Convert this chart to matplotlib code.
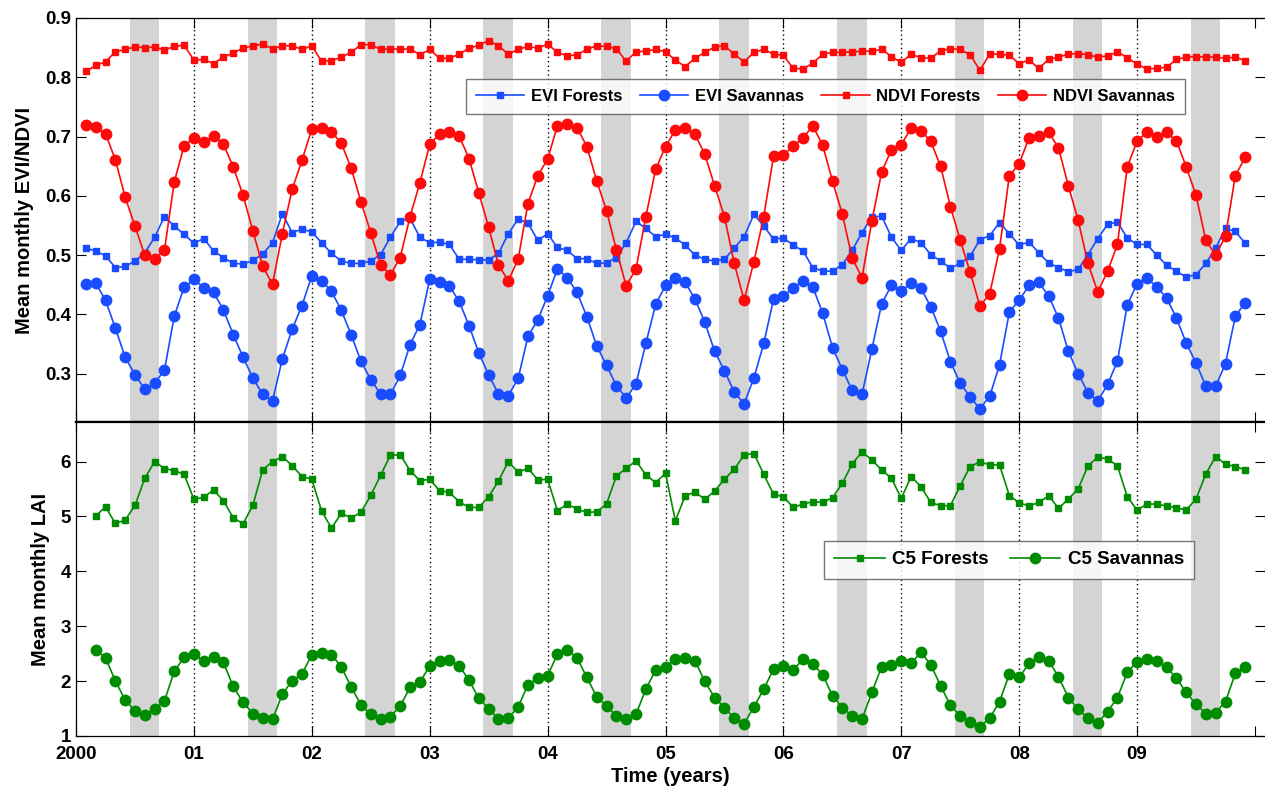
import matplotlib
matplotlib.use("Agg")
import matplotlib.pyplot as plt
import numpy as np

# monthly values, upper panel starts Feb 2000, lower panel starts Mar 2000
evi_forest = [0.512, 0.507, 0.499, 0.479, 0.481, 0.490, 0.504, 0.530, 0.565, 0.549,
              0.535, 0.520, 0.528, 0.507, 0.496, 0.486, 0.485, 0.491, 0.502, 0.521,
              0.570, 0.538, 0.544, 0.539, 0.521, 0.503, 0.490, 0.486, 0.486, 0.490,
              0.501, 0.530, 0.557, 0.562, 0.530, 0.521, 0.522, 0.518, 0.493, 0.493,
              0.492, 0.492, 0.503, 0.536, 0.561, 0.554, 0.525, 0.536, 0.513, 0.508,
              0.494, 0.494, 0.486, 0.487, 0.496, 0.521, 0.557, 0.545, 0.531, 0.535,
              0.529, 0.517, 0.500, 0.493, 0.490, 0.493, 0.512, 0.531, 0.569, 0.549,
              0.527, 0.529, 0.517, 0.507, 0.479, 0.473, 0.473, 0.484, 0.508, 0.538,
              0.564, 0.566, 0.530, 0.508, 0.528, 0.521, 0.501, 0.490, 0.478,
              0.486, 0.498, 0.526, 0.533, 0.555, 0.536, 0.517, 0.522, 0.504, 0.487,
              0.479, 0.472, 0.476, 0.501, 0.528, 0.552, 0.556, 0.529, 0.518, 0.518,
              0.500, 0.483, 0.473, 0.463, 0.467, 0.486, 0.512, 0.545, 0.540, 0.520]
evi_sav = [0.452, 0.453, 0.424, 0.377, 0.328, 0.298, 0.274, 0.284, 0.306, 0.397,
           0.446, 0.459, 0.445, 0.437, 0.408, 0.366, 0.328, 0.293, 0.265, 0.254,
           0.325, 0.375, 0.415, 0.465, 0.457, 0.439, 0.407, 0.366, 0.321, 0.290,
           0.266, 0.265, 0.297, 0.349, 0.383, 0.459, 0.455, 0.448, 0.422, 0.381,
           0.335, 0.298, 0.266, 0.263, 0.292, 0.363, 0.391, 0.431, 0.477, 0.462,
           0.437, 0.396, 0.347, 0.314, 0.280, 0.259, 0.283, 0.351, 0.417, 0.449,
           0.462, 0.454, 0.426, 0.387, 0.338, 0.305, 0.269, 0.249, 0.293, 0.351,
           0.426, 0.431, 0.445, 0.457, 0.446, 0.402, 0.344, 0.307, 0.272, 0.265,
           0.341, 0.418, 0.449, 0.440, 0.453, 0.444, 0.413, 0.372, 0.320,
           0.284, 0.261, 0.241, 0.262, 0.315, 0.404, 0.424, 0.449, 0.454, 0.431,
           0.394, 0.338, 0.300, 0.268, 0.254, 0.282, 0.321, 0.416, 0.452, 0.462,
           0.446, 0.428, 0.394, 0.352, 0.318, 0.279, 0.279, 0.317, 0.397, 0.420]
ndvi_forest = [0.810, 0.820, 0.826, 0.843, 0.847, 0.851, 0.850, 0.851, 0.846, 0.852,
               0.854, 0.829, 0.830, 0.823, 0.834, 0.841, 0.849, 0.853, 0.856, 0.848,
               0.853, 0.853, 0.847, 0.853, 0.827, 0.828, 0.834, 0.842, 0.855, 0.855,
               0.847, 0.848, 0.847, 0.848, 0.838, 0.847, 0.832, 0.832, 0.839, 0.849,
               0.854, 0.862, 0.853, 0.839, 0.847, 0.852, 0.849, 0.856, 0.842, 0.836,
               0.838, 0.847, 0.853, 0.852, 0.848, 0.827, 0.843, 0.844, 0.847, 0.843,
               0.829, 0.818, 0.832, 0.842, 0.851, 0.853, 0.839, 0.826, 0.842, 0.847,
               0.839, 0.837, 0.815, 0.814, 0.824, 0.839, 0.842, 0.842, 0.843, 0.844,
               0.844, 0.847, 0.835, 0.825, 0.839, 0.833, 0.832, 0.845, 0.848,
               0.847, 0.838, 0.812, 0.839, 0.839, 0.837, 0.823, 0.829, 0.815, 0.830,
               0.834, 0.839, 0.840, 0.838, 0.834, 0.836, 0.843, 0.833, 0.822, 0.814,
               0.815, 0.817, 0.830, 0.834, 0.835, 0.834, 0.834, 0.832, 0.834, 0.828]
ndvi_sav = [0.720, 0.716, 0.705, 0.661, 0.598, 0.549, 0.500, 0.494, 0.508, 0.624,
            0.684, 0.698, 0.690, 0.701, 0.687, 0.649, 0.601, 0.541, 0.481, 0.451,
            0.536, 0.611, 0.660, 0.713, 0.714, 0.708, 0.689, 0.647, 0.590, 0.538,
            0.483, 0.467, 0.496, 0.565, 0.622, 0.687, 0.704, 0.707, 0.701, 0.663,
            0.605, 0.547, 0.483, 0.457, 0.493, 0.587, 0.634, 0.662, 0.718, 0.722,
            0.715, 0.683, 0.625, 0.575, 0.509, 0.448, 0.477, 0.565, 0.645, 0.683,
            0.711, 0.714, 0.704, 0.670, 0.617, 0.565, 0.486, 0.424, 0.489, 0.565,
            0.667, 0.669, 0.684, 0.698, 0.718, 0.685, 0.625, 0.569, 0.495, 0.462,
            0.557, 0.640, 0.678, 0.686, 0.715, 0.710, 0.692, 0.650, 0.582,
            0.525, 0.472, 0.414, 0.435, 0.511, 0.634, 0.654, 0.698, 0.701, 0.707,
            0.681, 0.617, 0.559, 0.486, 0.438, 0.473, 0.518, 0.649, 0.692, 0.708,
            0.700, 0.707, 0.693, 0.649, 0.601, 0.525, 0.500, 0.532, 0.634, 0.665]
lai_forest = [5.006, 5.177, 4.872, 4.933, 5.201, 5.695, 6.000, 5.872, 5.835, 5.768,
              5.311, 5.348, 5.482, 5.287, 4.976, 4.866, 5.201, 5.848, 6.000, 6.091,
              5.927, 5.726, 5.677, 5.098, 4.787, 5.055, 4.976, 5.073, 5.384, 5.750,
              6.116, 6.122, 5.835, 5.652, 5.677, 5.470, 5.439, 5.268, 5.165, 5.165,
              5.360, 5.646, 6.000, 5.805, 5.878, 5.665, 5.677, 5.104, 5.226, 5.134,
              5.073, 5.085, 5.226, 5.738, 5.878, 6.012, 5.756, 5.616, 5.787, 4.921,
              5.372, 5.445, 5.311, 5.463, 5.677, 5.860, 6.122, 6.146, 5.768, 5.402,
              5.360, 5.165, 5.226, 5.268, 5.256, 5.341, 5.604, 5.957, 6.177, 6.030,
              5.848, 5.695, 5.329, 5.726, 5.543, 5.256, 5.195, 5.195, 5.561, 5.909,
              5.994, 5.939, 5.939, 5.378, 5.250, 5.189, 5.256, 5.378, 5.146, 5.317,
              5.500, 5.921, 6.079, 6.049, 5.921, 5.360, 5.116, 5.226, 5.226, 5.189,
              5.159, 5.116, 5.317, 5.774, 6.091, 5.951, 5.909, 5.848]
lai_sav = [2.567, 2.421, 2.006, 1.652, 1.457, 1.378, 1.488, 1.640, 2.177, 2.433,
           2.494, 2.372, 2.433, 2.341, 1.902, 1.610, 1.409, 1.335, 1.305, 1.762,
           2.006, 2.128, 2.482, 2.506, 2.482, 2.262, 1.896, 1.567, 1.396, 1.305,
           1.348, 1.549, 1.884, 1.976, 2.280, 2.360, 2.384, 2.280, 2.018, 1.683,
           1.500, 1.305, 1.323, 1.530, 1.933, 2.055, 2.098, 2.494, 2.567, 2.421,
           2.067, 1.713, 1.549, 1.360, 1.305, 1.396, 1.854, 2.201, 2.262, 2.402,
           2.415, 2.372, 1.994, 1.701, 1.518, 1.323, 1.226, 1.530, 1.854, 2.220,
           2.280, 2.201, 2.402, 2.311, 2.116, 1.732, 1.518, 1.366, 1.305, 1.793,
           2.262, 2.299, 2.372, 2.329, 2.524, 2.299, 1.915, 1.561, 1.366, 1.262,
           1.171, 1.323, 1.628, 2.128, 2.067, 2.323, 2.433, 2.372, 2.079, 1.701,
           1.488, 1.323, 1.244, 1.439, 1.701, 2.159, 2.354, 2.402, 2.372, 2.250,
           2.055, 1.793, 1.579, 1.409, 1.427, 1.628, 2.140, 2.250]

years = list(range(2000, 2010))
year_labels = ["2000", "01", "02", "03", "04", "05", "06", "07", "08", "09"]

t_up = 2000 + np.arange(1, len(evi_forest) + 1) / 12.0
t_lo = 2000 + np.arange(2, len(lai_forest) + 2) / 12.0

BLUE = "#1a4cff"
RED = "#ff0a0a"
GREEN = "#008c00"

plt.rcParams["font.family"] = ["Liberation Sans", "DejaVu Sans"]
plt.rcParams["font.weight"] = "bold"

fig = plt.figure(figsize=(12.65, 7.89), dpi=100)
ax1 = fig.add_axes([0.0601, 0.4651, 0.9399, 0.5121])
ax2 = fig.add_axes([0.0601, 0.0672, 0.9399, 0.3979])

for ax in (ax1, ax2):
    for y in years:
        ax.axvspan(y + 0.455, y + 0.705, color="#d4d4d4", lw=0, zorder=0)
    for y in years[1:]:
        ax.axvline(y, color="k", ls=(0, (1, 2.2)), lw=1.0, zorder=1)
    ax.set_xlim(2000, 2010.085)
    ax.set_xticks(years + [2010])
    ax.tick_params(direction="in", length=7, width=0.8, top=True, right=True,
                   labelsize=13.5)
    for s in ax.spines.values():
        s.set_linewidth(0.9)
    ax.spines["right"].set_visible(False)

ax1.spines["bottom"].set_linewidth(1.6)
ax2.spines["top"].set_linewidth(1.6)

ax1.plot(t_up, evi_forest, "-s", color=BLUE, ms=4.5, lw=1.2, label="EVI Forests", zorder=3)
ax1.plot(t_up, evi_sav, "-o", color=BLUE, ms=7.5, lw=1.2, label="EVI Savannas", zorder=3)
ax1.plot(t_up, ndvi_forest, "-s", color=RED, ms=4.5, lw=1.2, label="NDVI Forests", zorder=3)
ax1.plot(t_up, ndvi_sav, "-o", color=RED, ms=7.5, lw=1.2, label="NDVI Savannas", zorder=3)
ax1.set_ylim(0.2185, 0.9)
ax1.set_yticks([0.3, 0.4, 0.5, 0.6, 0.7, 0.8, 0.9])
ax1.set_yticklabels(["0.3", "0.4", "0.5", "0.6", "0.7", "0.8", "0.9"])
ax1.set_xticklabels([])
ax1.set_ylabel("Mean monthly EVI/NDVI", fontsize=14.5, fontweight="bold", labelpad=8)
leg1 = ax1.legend(ncol=4, loc="upper left", bbox_to_anchor=(0.328, 0.849),
                  borderaxespad=0, fontsize=12, frameon=True, fancybox=False,
                  edgecolor="#555555", handlelength=2.9, handletextpad=0.4,
                  columnspacing=1.05, borderpad=0.6)
leg1.get_frame().set_linewidth(1.0)

ax2.plot(t_lo, lai_forest, "-s", color=GREEN, ms=4.5, lw=1.2, label="C5 Forests", zorder=3)
ax2.plot(t_lo, lai_sav, "-o", color=GREEN, ms=7.5, lw=1.2, label="C5 Savannas", zorder=3)
ax2.set_ylim(1, 6.72)
ax2.set_yticks([1, 2, 3, 4, 5, 6])
ax2.set_xticklabels(year_labels + [""])
ax2.tick_params(axis="x", pad=7)
ax2.set_ylabel("Mean monthly LAI", fontsize=14.5, fontweight="bold", labelpad=8)
ax2.set_xlabel("Time (years)", fontsize=14.5, fontweight="bold", labelpad=3)
leg2 = ax2.legend(ncol=2, loc="upper left", bbox_to_anchor=(0.629, 0.621),
                  borderaxespad=0, fontsize=13.5, frameon=True, fancybox=False,
                  edgecolor="#555555", handlelength=2.7, handletextpad=0.4,
                  columnspacing=1.1, borderpad=0.55)
leg2.get_frame().set_linewidth(1.0)

fig.savefig("out.png", dpi=100)
